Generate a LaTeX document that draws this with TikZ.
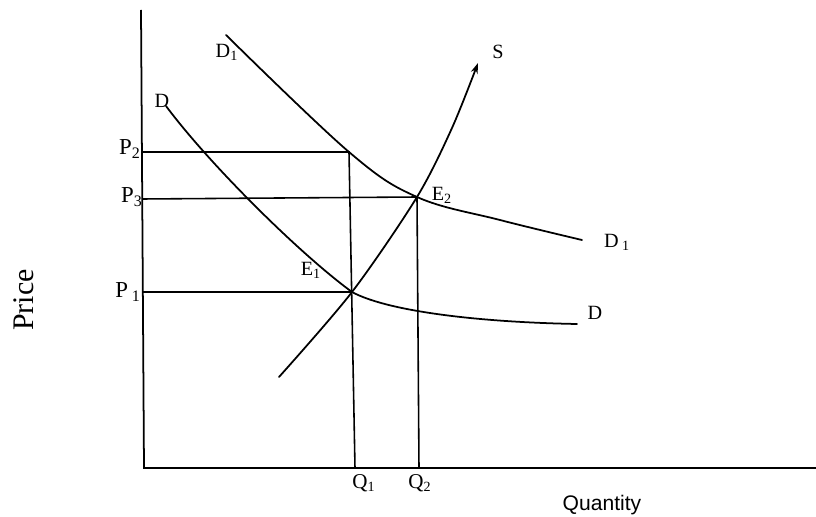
\documentclass[tikz,border=0pt]{standalone}
\usepackage{fontspec}
\setmainfont{Liberation Serif}
\newfontfamily\qtyfont{Liberation Sans}
\usetikzlibrary{arrows.meta}
\tikzset{
  axisline/.style={line width=1pt, black, line join=miter},
  guide/.style={line width=0.9pt, black},
  curve/.style={line width=1pt, black, line cap=round},
  supply/.style={curve, -{Stealth[length=6pt,width=4pt]}},
  lbl/.style={inner sep=0pt, font=\fontsize{11.5}{13}\selectfont},
  plbl/.style={inner sep=0pt, font=\fontsize{13}{15}\selectfont},
  qlbl/.style={inner sep=0pt, font=\fontsize{12}{14}\selectfont},
  axlbl/.style={inner sep=0pt, font=\fontsize{17}{19}\selectfont},
  qtylbl/.style={inner sep=0pt, font=\qtyfont\fontsize{12}{14}\selectfont},
}

\begin{document}
\begin{tikzpicture}[x=0.02cm, y=-0.02cm]

\useasboundingbox (0,0) rectangle (816,517);
\fill[white] (0,0) rectangle (816,517);

% ── Points ────────────────────────────────────────────────────────────────
% pixel grid of the scan, y runs downwards
\coordinate (YTOP) at (141, 10);
\coordinate (O)    at (144,468);
\coordinate (XEND) at (816,468);
\coordinate (E1)   at (352,292);
\coordinate (E2)   at (417,197);
\coordinate (H2)   at (349,152);   % D1 meets the P2 line
\coordinate (P1AX) at (143,292);
\coordinate (P2AX) at (142,152);
\coordinate (P3AX) at (142,199);
\coordinate (Q1AX) at (355,468);
\coordinate (Q2AX) at (419,468);
\coordinate (DTOP)  at (166,106);
\coordinate (DEND)  at (577,324);
\coordinate (D1TOP) at (226, 35);
\coordinate (D1END) at (582,240);
\coordinate (SBOT)  at (279,377);
\coordinate (STOP)  at (478, 63);

% ── Axes ──────────────────────────────────────────────────────────────────
\draw[axisline] (YTOP) -- (O) -- (XEND);

% ── Price / quantity guides ───────────────────────────────────────────────
\draw[guide] (P2AX) -- (H2) -- (Q1AX);
\draw[guide] (P3AX) -- (E2) -- (Q2AX);
\draw[guide] (P1AX) -- (E1);

% ── Demand and supply ─────────────────────────────────────────────────────
\draw[curve] (DTOP) .. controls (210,165) and (300,254) .. (E1)
                    .. controls (385,310) and (470,322) .. (DEND);
\draw[curve] plot[smooth, tension=0.6] coordinates
  {(D1TOP) (H2) (E2) (500,220) (D1END)};
\draw[supply] plot[smooth, tension=0.5] coordinates
  {(SBOT) (E1) (E2) (452,128) (STOP)};

% ── Labels ────────────────────────────────────────────────────────────────
\node[lbl]  (DL)   at (162,101) {D};
\node[lbl]  (D1L)  at (227, 52) {D\textsubscript{1}};
\node[lbl]  (SL)   at (498, 52) {S};
\node[lbl]  (E1L)  at (311,270) {E\textsubscript{1}};
\node[lbl]  (E2L)  at (442,195) {E\textsubscript{2}};
\node[lbl]  (D1R)  at (617,242) {D\,\textsubscript{1}};
\node[lbl]  (DR)   at (595,313) {D};
\node[plbl] (P2L)  at (130,149) {P\textsubscript{2}};
\node[plbl] (P3L)  at (132,197) {P\textsubscript{3}};
\node[plbl] (P1L)  at (128,292) {P\,\textsubscript{1}};
\node[qlbl] (Q1L)  at (364,483) {Q\textsubscript{1}};
\node[qlbl] (Q2L)  at (420,483) {Q\textsubscript{2}};
\node[qtylbl] (QTY)   at (602,505) {Quantity};
\node[axlbl, rotate=90] (PRICE) at (24,300) {Price};

\end{tikzpicture}
\end{document}
